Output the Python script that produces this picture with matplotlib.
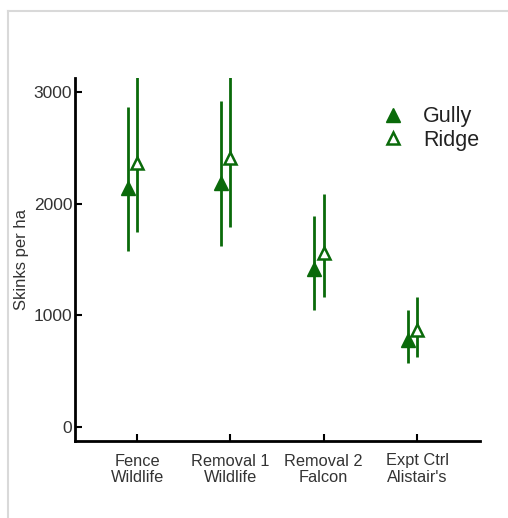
import numpy as np
import matplotlib.pyplot as plt

plt.rcParams['font.family'] = ['Liberation Sans', 'DejaVu Sans']

treatments = ["Fence\nWildlife", "Removal 1\nWildlife", "Removal 2\nFalcon", "Expt Ctrl\nAlistair's"]

gully_mean = [2140, 2185, 1415, 780]
gully_lo = [1580, 1620, 1050, 575]
gully_hi = [2865, 2920, 1890, 1050]

ridge_mean = [2365, 2410, 1560, 870]
ridge_hi = [3130, 3130, 2090, 1160]
ridge_lo = [1750, 1790, 1160, 630]

green = "#0a6a0a"
x = np.arange(1, 5)

fig = plt.figure(figsize=(5.08, 5.18), dpi=100)
# light grey frame of the original screenshot
fig.add_artist(plt.Line2D([8 / 508, 8 / 508], [0, 1 - 11 / 518], color="#d9d9d9", lw=1.5))
fig.add_artist(plt.Line2D([8 / 508, 1], [1 - 11 / 518, 1 - 11 / 518], color="#d9d9d9", lw=1.5))

ax = fig.add_axes([75 / 508, 1 - 441 / 518, 405 / 508, 363 / 518])

xg = x - 0.1
ax.vlines(xg, gully_lo, gully_hi, color=green, lw=2)
ax.vlines(x, ridge_lo, ridge_hi, color=green, lw=2)
ax.plot(xg, gully_mean, ls="none", marker="^", ms=9.5, color=green, mec=green, label="Gully")
ax.plot(x, ridge_mean, ls="none", marker="^", ms=8.5, mfc="white", mec=green, mew=1.8, label="Ridge")

ax.set_xlim(0.335, 4.675)
ax.set_ylim(-125, 3125)
ax.set_xticks(x)
ax.set_xticklabels(treatments, fontsize=11.75, color="#333333", linespacing=1.15)
ax.set_yticks([0, 1000, 2000, 3000])
ax.set_yticklabels(["0", "1000", "2000", "3000"], fontsize=12.5, color="#333333")
ax.tick_params(direction="in", length=5, width=1.5, pad=2)
ax.tick_params(axis="x", pad=9)
ax.set_ylabel("Skinks per ha", fontsize=12, color="#333333", labelpad=3)

for s in ["top", "right"]:
    ax.spines[s].set_visible(False)
for s in ["left", "bottom"]:
    ax.spines[s].set_linewidth(2)

leg = ax.legend(loc="upper left", bbox_to_anchor=(0.71, 0.975), frameon=False, fontsize=15.5,
                handletextpad=0.9, labelspacing=0.12, handlelength=1.0, markerscale=1.0)
for t in leg.get_texts():
    t.set_color("#222222")

fig.savefig("out.png", dpi=100)
